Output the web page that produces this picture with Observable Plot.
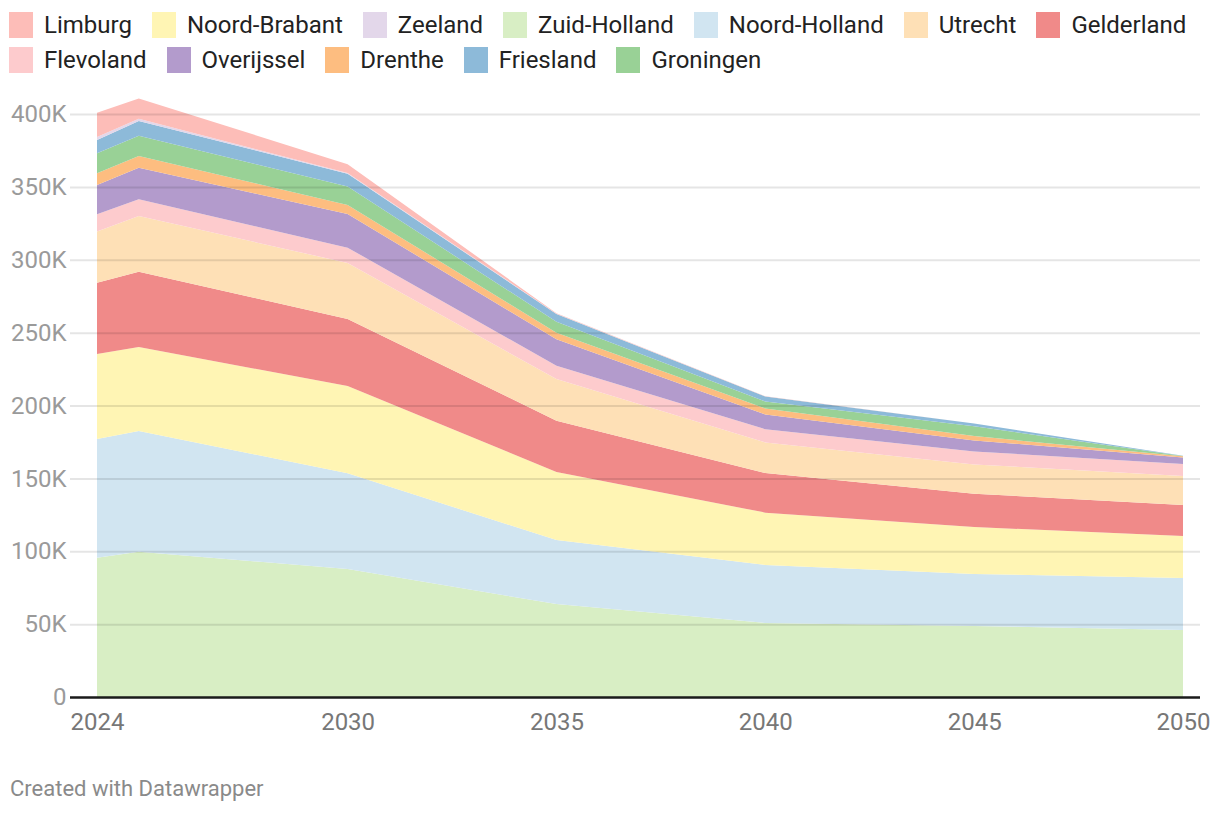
<!DOCTYPE html>
<html>
<head>
<meta charset="utf-8">
<script src="https://cdn.jsdelivr.net/npm/d3@7"></script>
<script src="https://cdn.jsdelivr.net/npm/@observablehq/plot@0.6"></script>
<style>
  html, body { margin: 0; padding: 0; background: #fff; }
  body { width: 1220px; height: 814px; position: relative; font-family: Roboto, "Noto Sans", sans-serif; overflow: hidden; }
  #legend { position: absolute; left: 9px; top: 7px; }
  .row { display: flex; align-items: center; height: 35px; }
  .item { display: flex; align-items: center; margin-right: 20px; }
  .sw { width: 24px; height: 26px; margin-right: 11px; }
  .lbl { font-size: 24px; color: #222; white-space: nowrap; }
  #chart { position: absolute; left: 0; top: 90px; }
  #caption { position: absolute; left: 10px; top: 776px; font-size: 22px; color: #8a8a8a; }
</style>
</head>
<body>
<div id="legend"></div>
<div id="chart"></div>
<div id="caption">Created with Datawrapper</div>
<script>
// Years
const years = [2024, 2025, 2030, 2035, 2040, 2045, 2050];

// Values in thousands, per province
const zuidHolland   = [95.6, 99.7, 87.8, 63.8, 50.8, 48.7, 46.0];
const noordHolland  = [81.4, 82.8, 65.7, 43.9, 39.8, 35.7, 35.6];
const noordBrabant  = [58.3, 57.6, 59.9, 46.7, 35.9, 32.2, 28.9];
const gelderland    = [49.0, 51.7, 46.0, 35.2, 27.2, 22.9, 21.2];
const utrecht       = [35.0, 38.2, 38.4, 28.5, 21.0, 20.1, 19.9];
const flevoland     = [11.9, 11.5, 10.5, 9.2, 9.0, 8.9, 8.3];
const overijssel    = [20.1, 21.7, 23.1, 18.1, 10.2, 7.5, 4.5];
const drenthe       = [8.0, 8.0, 6.2, 4.6, 4.1, 3.0, 0.7];
const groningen     = [13.7, 13.9, 12.6, 7.5, 4.8, 6.8, 0.3];
const friesland     = [9.2, 10.1, 8.8, 5.3, 3.3, 1.8, 0.1];
const zeeland       = [2.0, 1.5, 0.6, 0.2, 0.1, 0.05, 0];
const limburg       = [16.7, 14.0, 6.0, 0.3, 0.1, 0.05, 0];

// Stack order, bottom to top
const stackOrder = ["Zuid-Holland", "Noord-Holland", "Noord-Brabant", "Gelderland", "Utrecht",
  "Flevoland", "Overijssel", "Drenthe", "Groningen", "Friesland", "Zeeland", "Limburg"];
const seriesValues = [zuidHolland, noordHolland, noordBrabant, gelderland, utrecht,
  flevoland, overijssel, drenthe, groningen, friesland, zeeland, limburg];

// Legend order and colours
const legendRow1 = ["Limburg", "Noord-Brabant", "Zeeland", "Zuid-Holland", "Noord-Holland", "Utrecht", "Gelderland"];
const legendRow2 = ["Flevoland", "Overijssel", "Drenthe", "Friesland", "Groningen"];
const colorDomain = ["Limburg", "Noord-Brabant", "Zeeland", "Zuid-Holland", "Noord-Holland", "Utrecht",
  "Gelderland", "Flevoland", "Overijssel", "Drenthe", "Friesland", "Groningen"];
const colorRange = ["#fdbdb8", "#fff5b4", "#e3d7ea", "#d8eec4", "#d1e5f1", "#fee0b6",
  "#f08a89", "#fdcbcd", "#b39bcc", "#fdbd80", "#8dbad9", "#99d196"];

// Axis ticks
const yTicks = [0, 50000, 100000, 150000, 200000, 250000, 300000, 350000, 400000];
const xTicks = [2024, 2030, 2035, 2040, 2045, 2050];

// Build tidy table
const data = [];
stackOrder.forEach((name, i) => {
  years.forEach((yr, j) => data.push({region: name, year: yr, value: seriesValues[i][j] * 1000}));
});

// Legend
const legend = document.getElementById("legend");
const colorOf = Object.fromEntries(colorDomain.map((d, i) => [d, colorRange[i]]));
[legendRow1, legendRow2].forEach(row => {
  const r = document.createElement("div");
  r.className = "row";
  row.forEach(name => {
    const it = document.createElement("div");
    it.className = "item";
    it.innerHTML = `<div class="sw" style="background:${colorOf[name]}"></div><span class="lbl">${name}</span>`;
    r.appendChild(it);
  });
  legend.appendChild(r);
});

const fmt = d => d === 0 ? "0" : (d / 1000) + "K";

const chart = Plot.plot({
  width: 1220,
  height: 660,
  marginLeft: 70,
  marginRight: 20,
  marginTop: 24,
  marginBottom: 53,
  style: {fontFamily: "Roboto, sans-serif", background: "transparent"},
  x: {domain: [2024, 2050], range: [97, 1183]},
  y: {domain: [0, 400000]},
  color: {domain: colorDomain, range: colorRange},
  marks: [
    Plot.areaY(data, Plot.stackY({order: stackOrder}, {x: "year", y: "value", z: "region", fill: "region"})),
    Plot.ruleY(yTicks.filter(d => d > 0), {stroke: "#000", strokeOpacity: 0.1, strokeWidth: 2}),
    Plot.ruleY([0], {stroke: "#1a1a1a", strokeWidth: 2.5}),
    Plot.axisY({ticks: yTicks, tickSize: 0, tickPadding: 4, tickFormat: fmt, fontSize: 24, fill: "#9a9a9a", label: null}),
    Plot.axisX({ticks: xTicks, tickSize: 0, tickPadding: 15, tickFormat: d => String(d), fontSize: 24, fill: "#777", label: null})
  ]
});
document.getElementById("chart").appendChild(chart);
</script>
</body>
</html>
